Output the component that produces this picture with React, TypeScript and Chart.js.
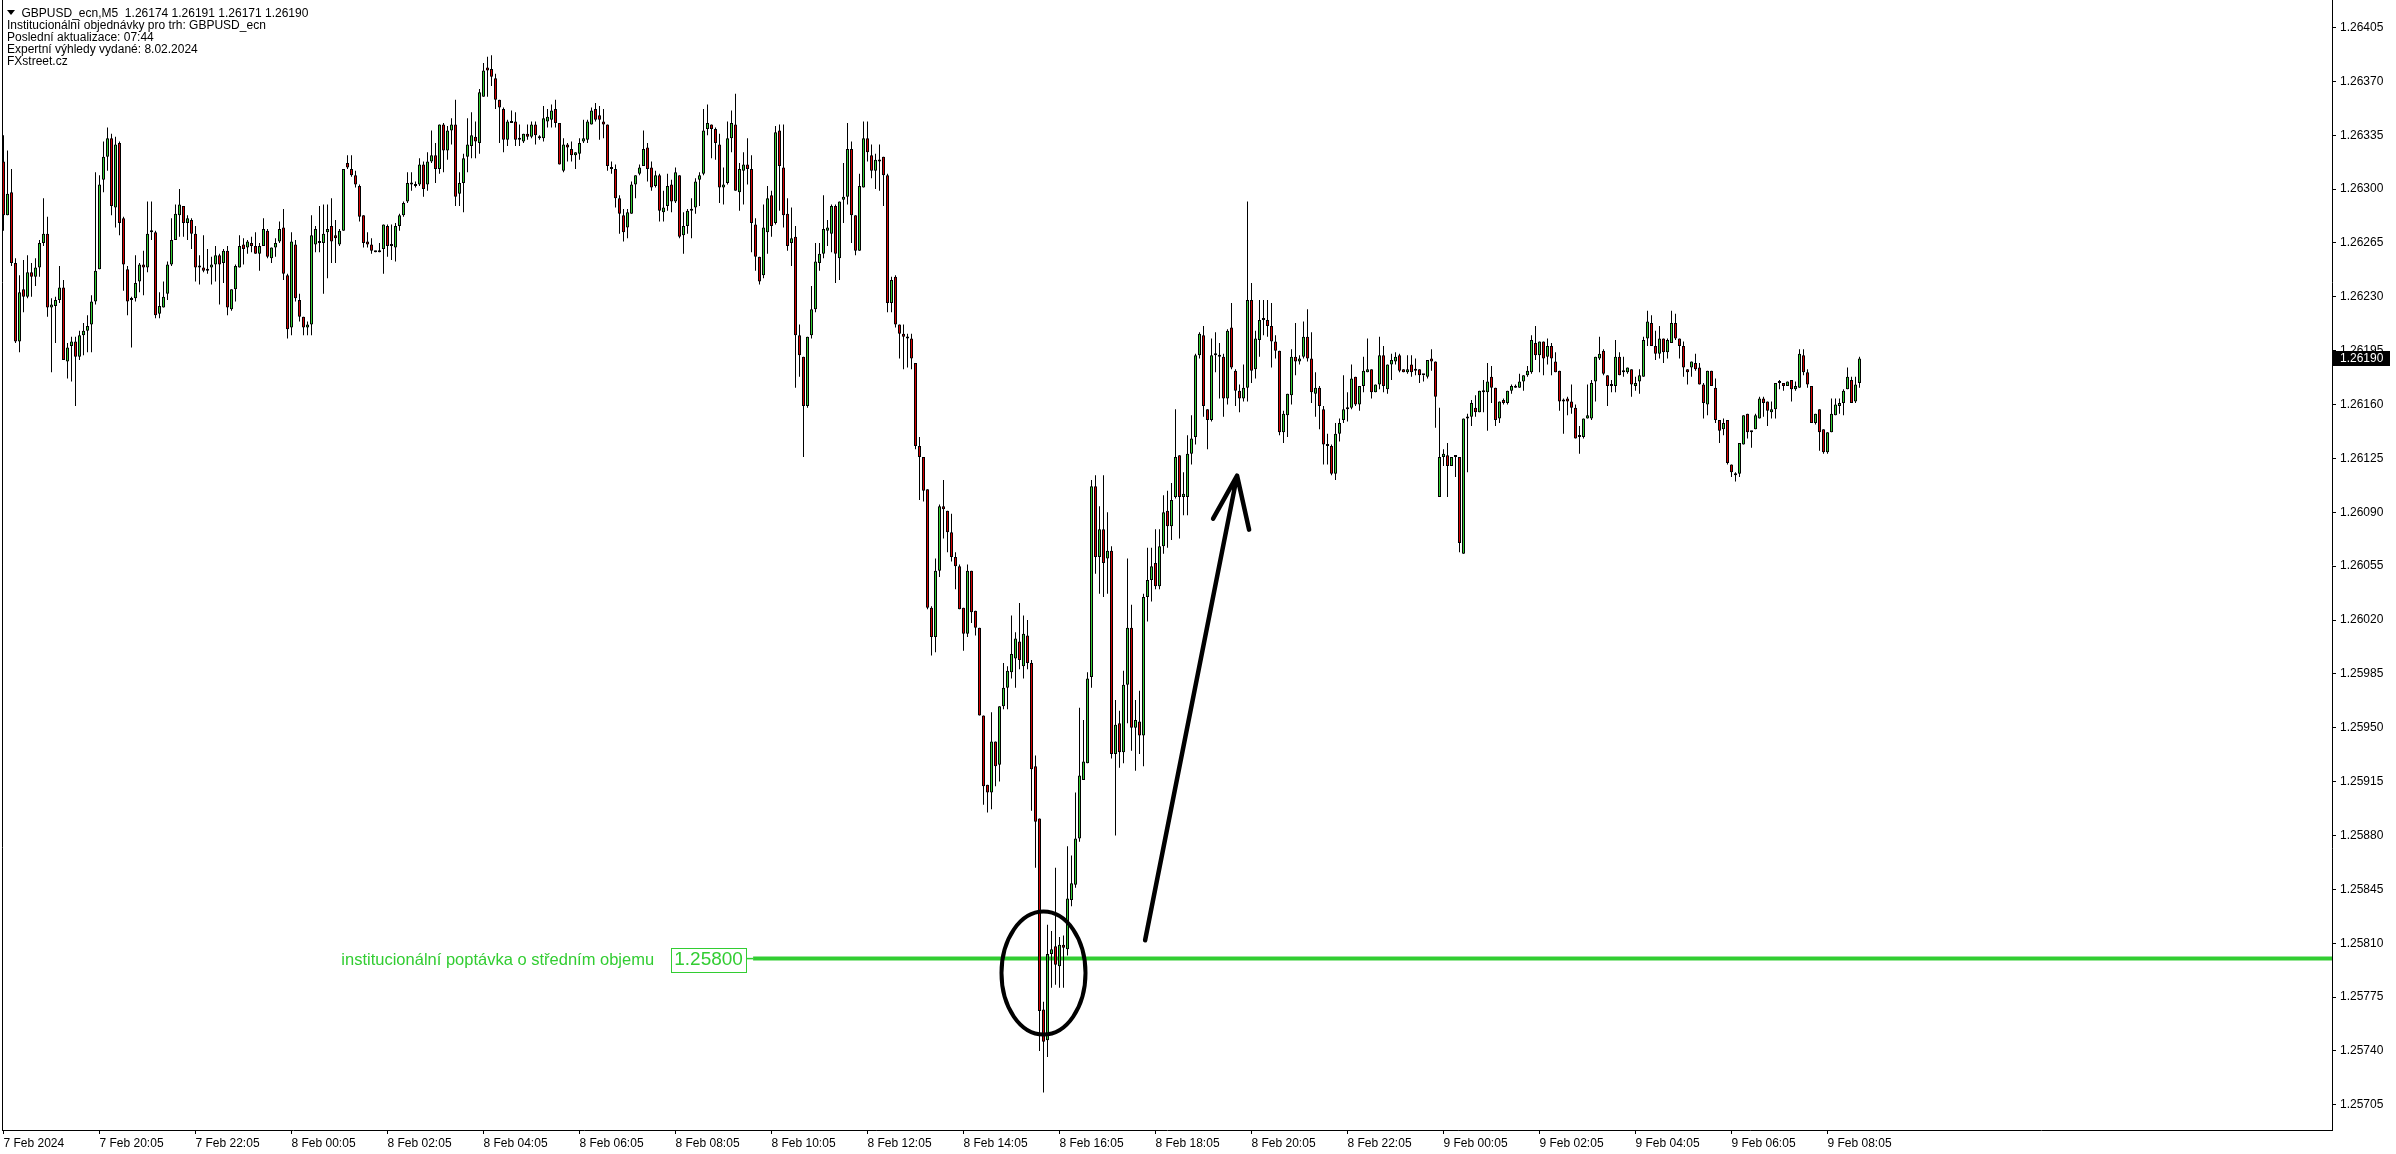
import { useEffect, useRef } from 'react';
import { Chart, registerables } from 'chart.js';

Chart.register(...registerables);

// ---------- data (prices in points of 0.00001 above 1.25000) ----------
const PRICE_BASE_POINTS = 125000;
const POINTS_PER_UNIT = 100000;

const OPEN = [
  1318,1283,1298,1252,1201,1235,1230,1246,1243,1249,
  1265,1271,1223,1224,1228,1236,1188,1198,1201,1191,
  1205,1208,1212,1227,1248,1306,1321,1333,1288,1330,
  1281,1248,1228,1229,1240,1251,1249,1272,1272,1219,
  1223,1232,1251,1267,1283,1289,1278,1280,1271,1250,
  1249,1248,1249,1251,1257,1252,1260,1222,1235,1249,
  1264,1262,1265,1263,1258,1263,1273,1255,1262,1266,
  1275,1244,1210,1264,1228,1217,1210,1212,1264,1265,
  1265,1272,1276,1270,1264,1273,1317,1313,1309,1302,
  1283,1266,1264,1260,1259,1261,1276,1263,1262,1276,
  1283,1292,1304,1303,1303,1316,1303,1318,1322,1313,
  1342,1325,1338,1342,1297,1304,1321,1328,1334,1330,
  1360,1379,1378,1372,1358,1352,1332,1344,1344,1333,
  1331,1336,1334,1342,1334,1333,1344,1345,1352,1343,
  1312,1329,1326,1322,1323,1331,1332,1342,1352,1348,
  1344,1342,1314,1313,1294,1283,1275,1284,1303,1310,
  1315,1327,1314,1302,1309,1285,1289,1303,1292,1309,
  1270,1276,1286,1288,1306,1310,1339,1342,1339,1329,
  1301,1304,1333,1342,1298,1312,1316,1313,1277,1256,
  1244,1272,1296,1278,1338,1314,1284,1265,1269,1205,
  1191,1159,1205,1222,1252,1258,1273,1271,1289,1255,
  1293,1295,1326,1283,1260,1301,1333,1322,1312,1318,
  1321,1309,1226,1243,1212,1206,1204,1203,1187,1133,
  1126,1105,1028,1009,1052,1094,1091,1077,1061,1055,
  1028,1011,1052,1026,1015,958,913,908,941,926,
  964,976,986,995,1006,990,1010,992,925,891,
  767,747,803,808,795,809,806,838,848,878,
  916,927,983,1107,1061,1079,1060,1065,933,953,
  934,978,1015,950,954,945,1035,1046,1057,1042,
  1068,1091,1081,1100,1127,1100,1100,1128,1139,1192,
  1205,1157,1150,1192,1192,1191,1164,1210,1182,1169,
  1164,1171,1228,1183,1202,1215,1215,1211,1201,1195,
  1142,1153,1166,1191,1188,1191,1204,1190,1167,1171,
  1157,1134,1133,1115,1141,1150,1157,1158,1178,1160,
  1172,1181,1183,1168,1173,1192,1170,1186,1188,1192,
  1183,1181,1186,1183,1183,1179,1178,1190,1188,1100,
  1126,1127,1120,1126,1126,1063,1151,1152,1158,1155,
  1168,1168,1178,1171,1151,1163,1161,1169,1172,1171,
  1175,1179,1181,1200,1192,1201,1191,1198,1188,1182,
  1163,1164,1162,1158,1139,1139,1151,1151,1175,1190,
  1195,1179,1172,1172,1191,1181,1181,1183,1172,1175,
  1178,1203,1213,1198,1193,1203,1194,1200,1213,1203,
  1198,1183,1184,1187,1184,1173,1160,1182,1171,1150,
  1144,1150,1121,1115,1115,1134,1154,1142,1144,1151,
  1164,1162,1155,1157,1174,1174,1172,1176,1170,1171,
  1192,1181,1172,1148,1157,1144,1129,1142,1153,1159,
  1161,1170,1176,1162,1174,
];

const HIGH = [
  1335,1325,1313,1255,1244,1254,1257,1252,1255,1267,
  1294,1282,1229,1230,1250,1241,1200,1204,1204,1208,
  1213,1218,1231,1311,1309,1331,1340,1336,1334,1331,
  1282,1250,1230,1257,1252,1260,1292,1292,1273,1233,
  1240,1253,1281,1290,1300,1289,1283,1281,1276,1257,
  1270,1261,1256,1263,1258,1261,1263,1235,1251,1270,
  1268,1267,1269,1272,1265,1281,1274,1262,1268,1279,
  1287,1245,1272,1267,1232,1217,1214,1283,1276,1289,
  1290,1290,1294,1280,1274,1313,1322,1322,1312,1303,
  1283,1272,1268,1260,1265,1277,1277,1277,1278,1284,
  1292,1311,1311,1305,1320,1318,1324,1338,1330,1342,
  1343,1341,1346,1358,1311,1323,1346,1350,1344,1365,
  1382,1386,1387,1375,1358,1353,1345,1351,1350,1342,
  1336,1342,1344,1344,1335,1354,1352,1355,1358,1343,
  1333,1330,1331,1324,1333,1345,1345,1353,1356,1354,
  1352,1342,1318,1316,1296,1287,1287,1305,1309,1316,
  1338,1330,1318,1312,1310,1299,1310,1306,1314,1309,
  1285,1287,1294,1307,1311,1352,1355,1342,1340,1336,
  1314,1344,1351,1362,1317,1324,1333,1322,1281,1256,
  1290,1302,1299,1341,1342,1342,1294,1288,1276,1212,
  1191,1204,1237,1265,1265,1296,1280,1290,1290,1292,
  1317,1343,1331,1283,1310,1344,1344,1329,1323,1329,
  1321,1310,1243,1244,1212,1212,1206,1206,1187,1139,
  1126,1105,1029,1060,1095,1111,1091,1089,1064,1056,
  1028,1056,1052,1026,1015,958,913,960,941,964,
  992,990,1023,1012,1031,1023,1020,994,932,891,
  772,822,818,859,814,815,873,867,908,963,
  955,986,1111,1114,1094,1114,1090,1068,968,961,
  987,1060,1030,968,974,1037,1067,1067,1079,1079,
  1101,1104,1109,1157,1127,1116,1140,1153,1193,1207,
  1211,1157,1203,1207,1200,1193,1209,1226,1183,1173,
  1186,1292,1239,1208,1228,1228,1228,1226,1205,1195,
  1156,1167,1196,1213,1192,1214,1222,1207,1181,1172,
  1159,1141,1134,1148,1151,1179,1168,1186,1178,1172,
  1191,1203,1183,1173,1204,1198,1186,1193,1194,1193,
  1183,1192,1192,1190,1183,1179,1189,1196,1188,1158,
  1131,1135,1126,1126,1126,1151,1154,1163,1166,1169,
  1176,1187,1185,1171,1162,1164,1169,1173,1173,1180,
  1179,1185,1205,1211,1201,1201,1203,1200,1194,1182,
  1164,1165,1173,1160,1146,1151,1173,1176,1191,1204,
  1196,1179,1176,1202,1194,1191,1184,1183,1178,1183,
  1204,1221,1218,1208,1211,1203,1203,1221,1219,1203,
  1201,1183,1188,1193,1187,1174,1182,1182,1177,1150,
  1151,1150,1121,1116,1135,1153,1154,1143,1154,1165,
  1165,1162,1162,1174,1176,1174,1175,1176,1175,1196,
  1196,1183,1172,1154,1157,1144,1142,1164,1164,1164,
  1170,1184,1178,1178,1191,
];

const LOW = [
  1273,1283,1250,1200,1194,1220,1229,1230,1237,1243,
  1263,1217,1181,1200,1226,1189,1177,1175,1159,1189,
  1192,1194,1194,1225,1248,1298,1312,1283,1275,1270,
  1234,1218,1197,1227,1233,1231,1246,1267,1216,1216,
  1223,1228,1250,1267,1269,1269,1267,1261,1240,1238,
  1246,1245,1238,1240,1225,1239,1218,1221,1227,1249,
  1251,1258,1259,1258,1247,1263,1255,1252,1256,1265,
  1241,1203,1205,1227,1214,1205,1205,1205,1259,1259,
  1232,1242,1252,1252,1263,1273,1313,1308,1301,1279,
  1262,1262,1258,1259,1259,1245,1256,1254,1253,1273,
  1282,1291,1299,1301,1302,1295,1299,1317,1304,1310,
  1311,1319,1329,1289,1289,1285,1311,1320,1320,1323,
  1360,1360,1367,1352,1330,1324,1328,1343,1328,1328,
  1330,1332,1333,1329,1332,1331,1340,1340,1340,1316,
  1311,1318,1318,1313,1319,1330,1330,1342,1344,1332,
  1333,1312,1310,1288,1271,1266,1268,1284,1294,1309,
  1315,1305,1299,1301,1279,1279,1286,1285,1291,1268,
  1258,1271,1268,1284,1289,1309,1335,1320,1319,1291,
  1290,1303,1324,1299,1286,1290,1303,1259,1247,1238,
  1242,1258,1269,1277,1286,1275,1260,1250,1171,1178,
  1126,1158,1203,1220,1247,1255,1263,1259,1239,1241,
  1278,1290,1265,1257,1260,1301,1318,1307,1300,1299,
  1289,1220,1220,1210,1190,1183,1184,1183,1131,1098,
  1097,1027,997,999,1048,1073,1064,1058,1040,1027,
  1000,1009,1018,1010,958,900,895,897,912,915,
  962,962,982,976,988,982,988,896,859,740,
  713,736,781,783,781,781,802,834,846,876,
  916,927,976,1050,1037,1035,1037,930,880,924,
  927,953,935,922,933,925,1019,1032,1040,1040,
  1063,1067,1072,1099,1073,1088,1088,1121,1134,1190,
  1152,1131,1149,1181,1164,1152,1160,1183,1159,1155,
  1162,1162,1174,1177,1191,1205,1204,1184,1190,1140,
  1135,1139,1160,1179,1186,1190,1188,1161,1152,1144,
  1121,1121,1114,1111,1136,1148,1149,1157,1159,1156,
  1168,1181,1164,1168,1170,1168,1167,1176,1186,1181,
  1181,1180,1178,1179,1174,1175,1177,1182,1145,1100,
  1120,1100,1120,1113,1064,1063,1116,1146,1152,1155,
  1155,1143,1161,1146,1148,1160,1160,1167,1171,1171,
  1169,1178,1180,1189,1181,1179,1186,1179,1181,1156,
  1141,1153,1154,1138,1128,1138,1151,1150,1162,1189,
  1179,1159,1168,1168,1179,1178,1180,1165,1169,1167,
  1178,1198,1198,1189,1190,1187,1190,1200,1202,1190,
  1178,1173,1178,1182,1173,1151,1153,1172,1148,1135,
  1140,1121,1113,1110,1113,1134,1138,1132,1144,1151,
  1152,1146,1151,1151,1170,1169,1172,1162,1169,1171,
  1179,1171,1148,1147,1130,1128,1128,1142,1153,1154,
  1153,1170,1161,1161,1171,
];

const CLOSE = [
  1283,1297,1252,1201,1233,1230,1246,1243,1249,1265,
  1271,1223,1225,1228,1236,1189,1197,1201,1191,1205,
  1208,1211,1227,1247,1303,1321,1333,1289,1329,1278,
  1251,1227,1229,1239,1251,1249,1271,1273,1218,1224,
  1230,1251,1267,1284,1290,1278,1281,1271,1249,1249,
  1247,1247,1251,1257,1251,1260,1223,1235,1250,1263,
  1261,1266,1263,1258,1263,1274,1256,1262,1265,1274,
  1245,1209,1266,1229,1217,1210,1212,1270,1274,1266,
  1271,1274,1266,1268,1273,1313,1314,1309,1303,1282,
  1265,1264,1260,1259,1260,1277,1263,1263,1276,1283,
  1291,1304,1303,1302,1316,1300,1318,1322,1313,1342,
  1325,1338,1342,1295,1304,1320,1329,1335,1331,1363,
  1377,1377,1373,1358,1353,1332,1344,1343,1332,1332,
  1336,1334,1342,1335,1333,1346,1347,1351,1343,1316,
  1329,1327,1322,1324,1330,1333,1344,1351,1345,1345,
  1342,1315,1313,1294,1284,1272,1285,1303,1309,1314,
  1326,1313,1301,1309,1286,1288,1302,1292,1311,1269,
  1276,1286,1287,1305,1309,1338,1343,1339,1330,1301,
  1303,1333,1343,1299,1313,1316,1313,1278,1256,1240,
  1275,1294,1276,1337,1315,1283,1263,1268,1205,1192,
  1159,1204,1222,1253,1258,1274,1275,1289,1258,1292,
  1295,1326,1283,1260,1302,1333,1324,1312,1319,1319,
  1309,1226,1241,1212,1206,1204,1203,1190,1133,1126,
  1104,1028,1009,1052,1094,1092,1077,1061,1055,1027,
  1011,1052,1025,1015,958,912,908,941,925,964,
  976,987,998,1008,994,1011,992,923,889,766,
  746,803,806,796,809,807,839,849,878,919,
  928,982,1107,1061,1079,1057,1065,933,952,934,
  978,1015,950,955,945,1035,1046,1055,1042,1068,
  1090,1081,1098,1126,1100,1102,1128,1138,1192,1206,
  1159,1150,1192,1193,1191,1164,1208,1184,1169,1164,
  1171,1228,1182,1203,1215,1215,1211,1201,1195,1142,
  1154,1167,1191,1188,1190,1204,1190,1168,1171,1159,
  1134,1133,1115,1141,1148,1157,1158,1177,1160,1172,
  1182,1183,1168,1173,1192,1172,1186,1189,1191,1182,
  1181,1183,1181,1182,1179,1179,1189,1188,1165,1126,
  1128,1120,1126,1126,1070,1151,1152,1161,1155,1169,
  1169,1175,1171,1150,1162,1161,1169,1172,1171,1175,
  1179,1182,1202,1192,1201,1190,1198,1190,1181,1162,
  1162,1162,1158,1138,1139,1151,1153,1174,1191,1193,
  1180,1172,1172,1191,1179,1181,1184,1173,1174,1179,
  1202,1214,1198,1193,1203,1194,1202,1213,1203,1198,
  1184,1181,1188,1183,1173,1161,1182,1172,1150,1143,
  1148,1122,1116,1114,1135,1153,1142,1142,1153,1164,
  1161,1156,1157,1174,1174,1172,1175,1170,1172,1193,
  1181,1173,1148,1154,1142,1129,1142,1154,1160,1161,
  1169,1178,1161,1173,1190,
];

const TIME_LABELS = [
  '7 Feb 2024', '7 Feb 20:05', '7 Feb 22:05', '8 Feb 00:05', '8 Feb 02:05',
  '8 Feb 04:05', '8 Feb 06:05', '8 Feb 08:05', '8 Feb 10:05', '8 Feb 12:05',
  '8 Feb 14:05', '8 Feb 16:05', '8 Feb 18:05', '8 Feb 20:05', '8 Feb 22:05',
  '9 Feb 00:05', '9 Feb 02:05', '9 Feb 04:05', '9 Feb 06:05', '9 Feb 08:05',
];
const BARS_PER_LABEL = 24;

const Y_TICKS = [
  1.25705, 1.25740, 1.25775, 1.25810, 1.25845, 1.25880, 1.25915,
  1.25950, 1.25985, 1.26020, 1.26055, 1.26090, 1.26125, 1.26160,
  1.26195, 1.26230, 1.26265, 1.26300, 1.26335, 1.26370, 1.26405,
];

const SYMBOL = 'GBPUSD_ecn';
const TIMEFRAME = 'M5';
const INFO_LINES = [
  'Institucionální objednávky pro trh: GBPUSD_ecn',
  'Poslední aktualizace: 07:44',
  'Expertní výhledy vydané: 8.02.2024',
  'FXstreet.cz',
];

const LEVEL_PRICE = 1.258;
const LEVEL_TEXT = 'institucionální poptávka o středním objemu';
const LEVEL_START_BAR = 187.4;
const ELLIPSE_CENTER = { bar: 260, price: 1.257906 };
const ARROW_TAIL = { bar: 285.4, price: 1.258119 };
const ARROW_TIP = { bar: 308.4, price: 1.261138 };

// ---------- styling ----------
const GREEN = '#32CD32';
const BULL = '#32CD32';
const BEAR = '#D40000';
const FONT = '"Liberation Sans", Arial, sans-serif';

const toPrice = (v: number) => (PRICE_BASE_POINTS + v) / POINTS_PER_UNIT;

const overlayPlugin = {
  id: 'overlay',
  beforeDatasetsDraw(chart: any) {
    const { ctx, chartArea } = chart;
    const xs = chart.scales.x;
    const ys = chart.scales.y;
    const ly = ys.getPixelForValue(LEVEL_PRICE);
    const lx = xs.getPixelForValue(LEVEL_START_BAR);
    ctx.save();
    ctx.strokeStyle = GREEN;
    ctx.lineWidth = 4;
    ctx.beginPath();
    ctx.moveTo(lx, ly);
    ctx.lineTo(chartArea.right, ly);
    ctx.stroke();
    ctx.restore();
  },
  afterDatasetsDraw(chart: any) {
    const { ctx, chartArea } = chart;
    const xs = chart.scales.x;
    const ys = chart.scales.y;
    ctx.save();

    // level label
    const ly = ys.getPixelForValue(LEVEL_PRICE);
    const lx = xs.getPixelForValue(LEVEL_START_BAR);
    const boxRight = lx - 7;
    const boxLeft = boxRight - 75;
    ctx.strokeStyle = GREEN;
    ctx.lineWidth = 1.5;
    ctx.beginPath();
    ctx.moveTo(boxRight, ly);
    ctx.lineTo(lx, ly);
    ctx.stroke();
    ctx.lineWidth = 1;
    ctx.strokeRect(Math.round(boxLeft) + 0.5, Math.round(ly - 11) + 0.5, 75, 24);
    ctx.fillStyle = GREEN;
    ctx.textBaseline = 'middle';
    ctx.textAlign = 'center';
    ctx.font = `19px ${FONT}`;
    ctx.fillText(LEVEL_PRICE.toFixed(5), boxLeft + 37.5, ly + 1.5);
    ctx.textAlign = 'right';
    ctx.font = `16.5px ${FONT}`;
    ctx.fillText(LEVEL_TEXT, boxLeft - 17, ly + 1.5);

    // ellipse
    const ex = xs.getPixelForValue(ELLIPSE_CENTER.bar);
    const ey = ys.getPixelForValue(ELLIPSE_CENTER.price);
    ctx.strokeStyle = '#000';
    ctx.lineWidth = 4;
    ctx.beginPath();
    ctx.ellipse(ex, ey, 42, 61.5, 0, 0, Math.PI * 2);
    ctx.stroke();

    // arrow
    const tx = xs.getPixelForValue(ARROW_TAIL.bar);
    const ty = ys.getPixelForValue(ARROW_TAIL.price);
    const hx = xs.getPixelForValue(ARROW_TIP.bar);
    const hy = ys.getPixelForValue(ARROW_TIP.price);
    ctx.lineWidth = 4.5;
    ctx.lineCap = 'round';
    ctx.lineJoin = 'round';
    ctx.beginPath();
    ctx.moveTo(tx, ty);
    ctx.lineTo(hx, hy);
    ctx.moveTo(hx - 24, hy + 43);
    ctx.lineTo(hx, hy);
    ctx.lineTo(hx + 12, hy + 54);
    ctx.stroke();

    // header
    const n = OPEN.length - 1;
    ctx.fillStyle = '#000';
    ctx.beginPath();
    ctx.moveTo(7, 10);
    ctx.lineTo(15, 10);
    ctx.lineTo(11, 15);
    ctx.closePath();
    ctx.fill();
    ctx.font = `12px ${FONT}`;
    ctx.textAlign = 'left';
    ctx.textBaseline = 'alphabetic';
    const ohlc = [OPEN[n], HIGH[n], LOW[n], CLOSE[n]].map((v) => toPrice(v).toFixed(5)).join(' ');
    ctx.fillText(`${SYMBOL},${TIMEFRAME}  ${ohlc}`, 21.5, 17);
    INFO_LINES.forEach((t, i) => ctx.fillText(t, 7, 29 + i * 12));

    // left frame
    ctx.strokeStyle = '#000';
    ctx.lineWidth = 1;
    ctx.beginPath();
    ctx.moveTo(chartArea.left + 0.5, 0);
    ctx.lineTo(chartArea.left + 0.5, chartArea.bottom);
    ctx.stroke();
    ctx.restore();
  },
  afterDraw(chart: any) {
    const { ctx, chartArea } = chart;
    const ys = chart.scales.y;
    const last = toPrice(CLOSE[CLOSE.length - 1]);
    const py = ys.getPixelForValue(last);
    ctx.save();
    ctx.fillStyle = '#000';
    ctx.fillRect(chartArea.right + 1, Math.round(py - 7.5), 57, 15);
    ctx.fillStyle = '#fff';
    ctx.font = `12px ${FONT}`;
    ctx.textAlign = 'left';
    ctx.textBaseline = 'middle';
    ctx.fillText(last.toFixed(5), chartArea.right + 8, py);
    ctx.restore();
  },
};

export default function App() {
  const ref = useRef<HTMLCanvasElement>(null);

  useEffect(() => {
    const canvas = ref.current;
    if (!canvas) return;

    const bodies = OPEN.map((o, i) => ({ x: i, y: [toPrice(o), toPrice(CLOSE[i])] }));
    const wicks = OPEN.map((o, i) => ({
      x: i,
      y: [toPrice(Math.min(LOW[i], o, CLOSE[i])), toPrice(Math.max(HIGH[i], o, CLOSE[i]))],
    }));
    const bodyColors = OPEN.map((o, i) => (CLOSE[i] >= o ? BULL : BEAR));

    const chart = new Chart(canvas, {
      type: 'bar',
      data: {
        datasets: [
          {
            label: 'body',
            data: bodies as any,
            backgroundColor: bodyColors,
            borderColor: '#000',
            borderWidth: 1,
            borderSkipped: false,
            barThickness: 3,
            minBarLength: 2,
            grouped: false,
            inflateAmount: 0,
            order: 0,
          } as any,
          {
            label: 'wick',
            data: wicks as any,
            backgroundColor: '#000',
            borderWidth: 0,
            barThickness: 1,
            grouped: false,
            inflateAmount: 0,
            order: 1,
          } as any,
        ],
      },
      options: {
        responsive: false,
        animation: false,
        devicePixelRatio: 1,
        events: [],
        layout: { padding: { left: 2, top: 0, right: 0, bottom: 0 } },
        plugins: {
          legend: { display: false },
          tooltip: { enabled: false },
          title: { display: false },
        },
        scales: {
          x: {
            type: 'linear',
            min: -0.375,
            max: 582.125,
            offset: false,
            bounds: 'data',
            grid: {
              display: true,
              drawOnChartArea: false,
              drawTicks: true,
              tickLength: 4,
              color: '#000',
              offset: false,
            },
            border: { display: true, color: '#000', width: 1 },
            ticks: {
              autoSkip: false,
              maxRotation: 0,
              minRotation: 0,
              align: 'start',
              padding: 2,
              color: '#000',
              font: { family: FONT, size: 12 },
              callback: (_v: any, i: number) => TIME_LABELS[i],
            },
            afterBuildTicks: (scale: any) => {
              scale.ticks = TIME_LABELS.map((_, k) => ({ value: k * BARS_PER_LABEL }));
            },
            afterFit: (scale: any) => {
              scale.height = 24;
              scale.paddingLeft = 0;
              scale.paddingRight = 0;
            },
          } as any,
          y: {
            type: 'linear',
            position: 'right',
            min: 1.2568863,
            max: 1.2642287,
            bounds: 'data',
            grid: {
              display: true,
              drawOnChartArea: false,
              drawTicks: true,
              tickLength: 4,
              color: '#000',
            },
            border: { display: true, color: '#000', width: 1 },
            ticks: {
              padding: 4,
              color: '#000',
              font: { family: FONT, size: 12 },
              callback: (v: any) => Number(v).toFixed(5),
            },
            afterBuildTicks: (scale: any) => {
              scale.ticks = Y_TICKS.map((v) => ({ value: v }));
            },
            afterFit: (scale: any) => {
              scale.width = 64;
              scale.paddingTop = 0;
              scale.paddingBottom = 0;
            },
          } as any,
        },
      } as any,
      plugins: [overlayPlugin],
    });

    return () => chart.destroy();
  }, []);

  return (
    <div style={{ position: 'absolute', left: 0, top: 0, width: 2396, height: 1154, background: '#fff' }}>
      <canvas ref={ref} width={2396} height={1154} style={{ display: 'block', width: 2396, height: 1154 }} />
    </div>
  );
}
